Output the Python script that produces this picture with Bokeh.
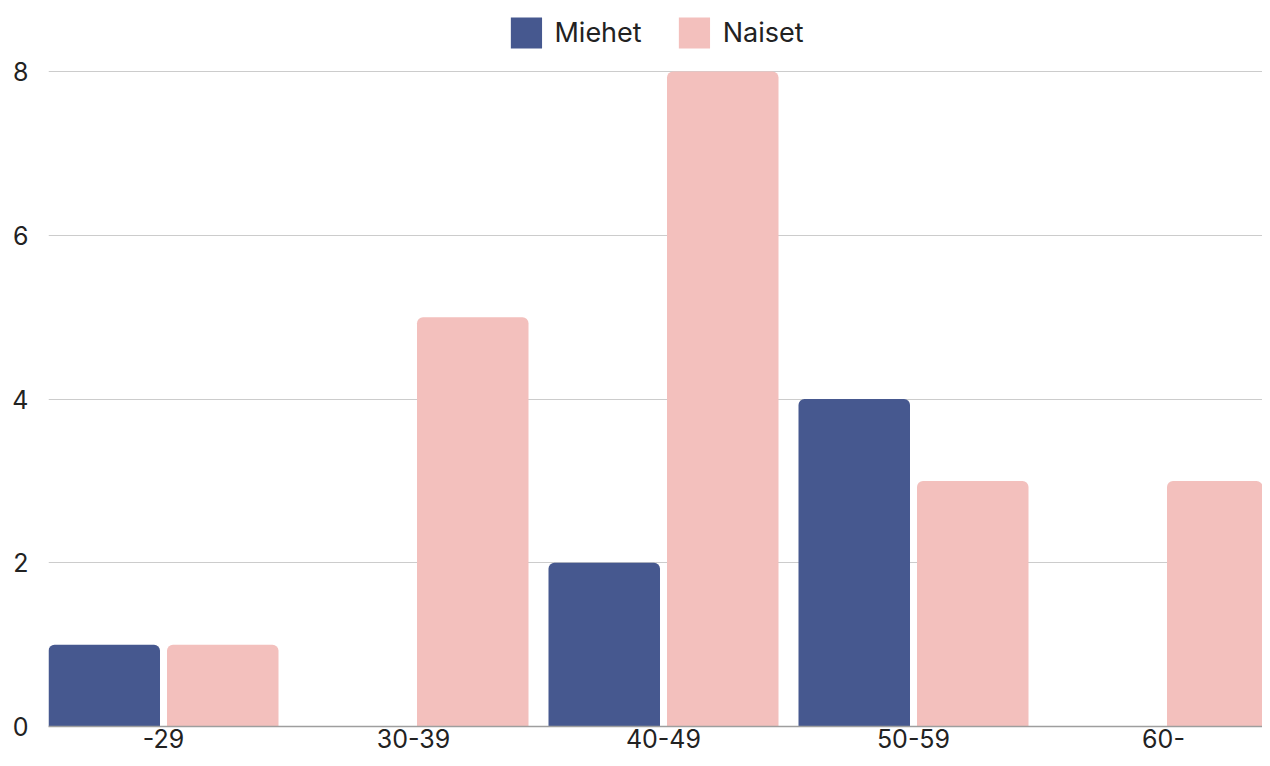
from bokeh.plotting import figure
from bokeh.models import Range1d, FixedTicker, Legend, LegendItem, ColumnDataSource
from bokeh.transform import dodge
from bokeh.embed import file_html
from bokeh.resources import INLINE

categories = ["-29", "30-39", "40-49", "50-59", "60-"]
miehet = [1, 0, 2, 4, 0]
naiset = [1, 5, 8, 3, 3]
y_ticks = [0, 2, 4, 6, 8]

MIEHET_COLOR = "#46588f"
NAISET_COLOR = "#f3c0bd"
FONT = "Inter"

idx = list(range(len(categories)))
src = ColumnDataSource(dict(x=idx, miehet=miehet, naiset=naiset))

W, H = 1262, 758
LEFT, BOTTOM = 48, 32
frame_w = W - LEFT
frame_h = H - BOTTOM
y_top = 8 + 71 / ((frame_h - 71) / 8)

p = figure(
    width=W, height=H,
    x_range=Range1d(-0.46, -0.46 + frame_w / 250),
    y_range=Range1d(0, y_top),
    output_backend="svg", toolbar_location=None,
    min_border_left=LEFT, min_border_right=0, min_border_top=0, min_border_bottom=BOTTOM,
)
p.outline_line_color = None
p.background_fill_color = "white"
p.border_fill_color = "white"

r1 = p.vbar(x=dodge("x", -0.237), top="miehet", bottom=0, width=0.446, source=src,
            fill_color=MIEHET_COLOR, line_color=None, border_radius=(6, 6, 0, 0))
r2 = p.vbar(x=dodge("x", 0.237), top="naiset", bottom=0, width=0.446, source=src,
            fill_color=NAISET_COLOR, line_color=None, border_radius=(6, 6, 0, 0))

p.xgrid.grid_line_color = None
p.ygrid.grid_line_color = "#cccccc"
p.ygrid.grid_line_width = 1
p.ygrid.ticker = FixedTicker(ticks=y_ticks)

p.xaxis.ticker = FixedTicker(ticks=idx)
p.xaxis.major_label_overrides = {i: c for i, c in zip(idx, categories)}
p.xaxis.axis_line_color = "#9e9e9e"
p.xaxis.axis_line_width = 1.5
p.xaxis.major_tick_line_color = None
p.xaxis.minor_tick_line_color = None
p.xaxis.major_tick_out = 0
p.xaxis.major_tick_in = 0
p.xaxis.major_label_standoff = 2
p.xaxis.major_label_text_font = FONT
p.xaxis.major_label_text_font_size = "25px"
p.xaxis.major_label_text_color = "#222222"

p.yaxis.ticker = FixedTicker(ticks=y_ticks)
p.yaxis.axis_line_color = None
p.yaxis.major_tick_line_color = None
p.yaxis.minor_tick_line_color = None
p.yaxis.major_tick_out = 0
p.yaxis.major_tick_in = 0
p.yaxis.major_label_standoff = 20
p.yaxis.major_label_text_font = FONT
p.yaxis.major_label_text_font_size = "25px"
p.yaxis.major_label_text_color = "#222222"

legend = Legend(
    items=[LegendItem(label="Miehet", renderers=[r1]), LegendItem(label="Naiset", renderers=[r2])],
    orientation="horizontal", location="top_center",
    glyph_width=39, glyph_height=39, label_standoff=9, spacing=33,
    label_text_font=FONT, label_text_font_size="27px", label_text_color="#222222",
    border_line_color=None, background_fill_alpha=0, margin=13, padding=0,
)
p.add_layout(legend, "center")

open("out.html", "w").write(file_html(p, INLINE))
